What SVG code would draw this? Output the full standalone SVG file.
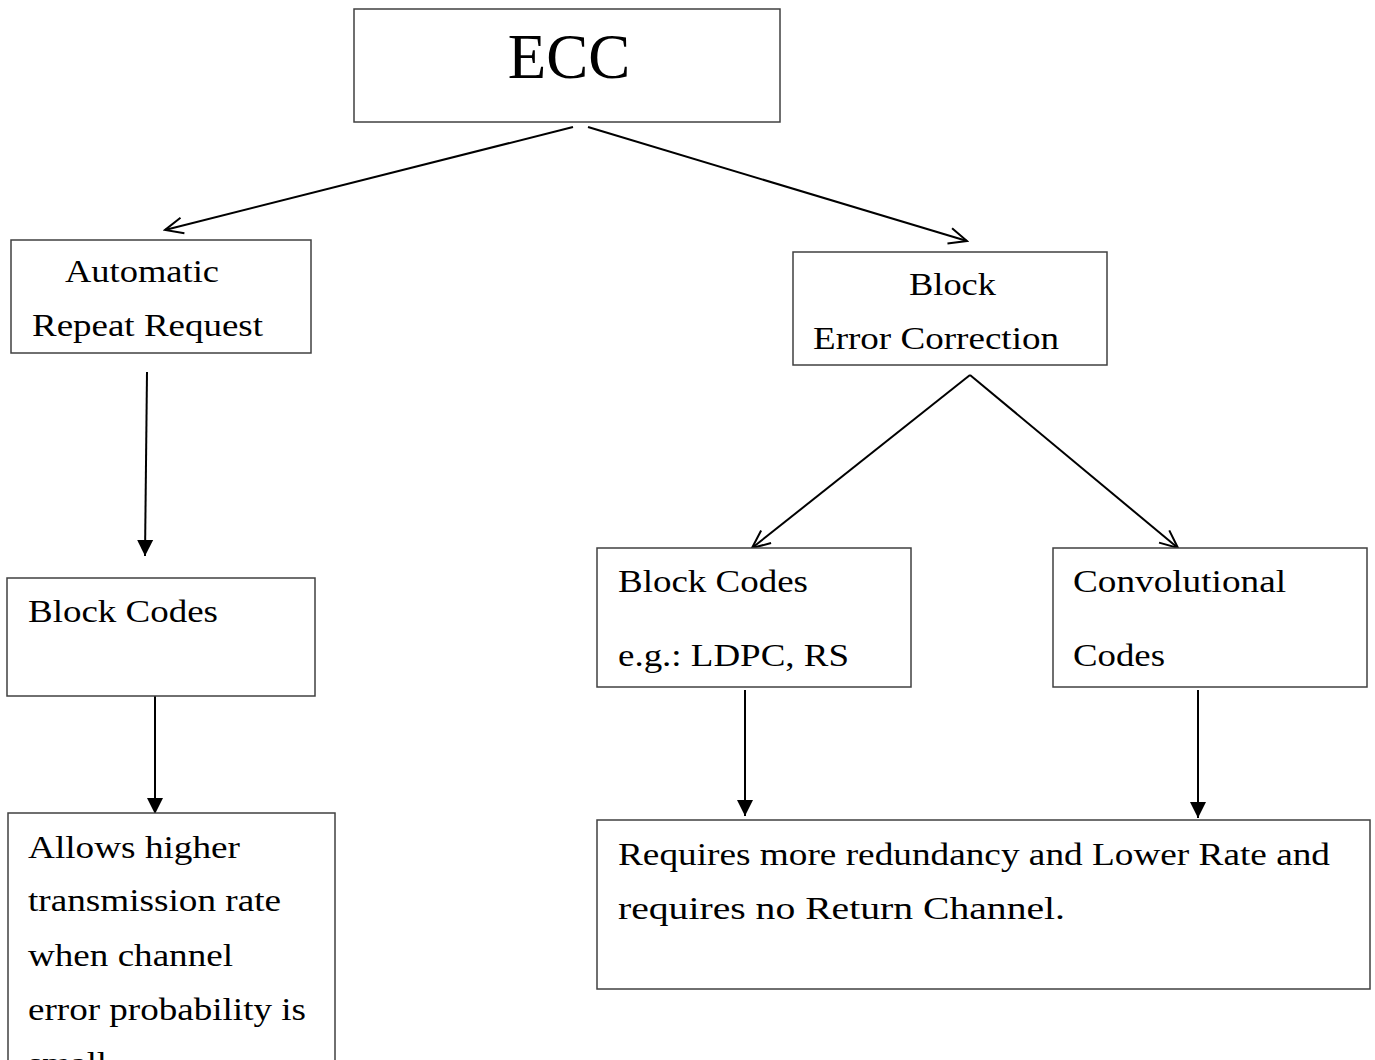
<svg xmlns="http://www.w3.org/2000/svg" width="1375" height="1060" viewBox="0 0 1375 1060">
  <style>
    .box { fill: #ffffff; stroke: #404040; stroke-width: 1.5; }
    .lbl { font-family: "Liberation Serif", "Times New Roman", serif; font-size: 32px; fill: #000000; }
    .big { font-family: "Liberation Serif", "Times New Roman", serif; font-size: 63px; fill: #000000; }
    .edge { fill: none; stroke: #000000; stroke-width: 2; }
    .open { marker-end: url(#openHead); }
    .solid { marker-end: url(#solidHead); }
  </style>
  <defs>
    <marker id="openHead" viewBox="0 0 22 22" refX="20" refY="11" markerWidth="22" markerHeight="22" markerUnits="userSpaceOnUse" orient="auto">
      <path d="M2,3 L20,11 L2,19" fill="none" stroke="#000" stroke-width="2"/>
    </marker>
    <marker id="solidHead" viewBox="0 0 20 20" refX="18" refY="10" markerWidth="20" markerHeight="20" markerUnits="userSpaceOnUse" orient="auto">
      <path d="M2,2 L18,10 L2,18 Z" fill="#000"/>
    </marker>
  </defs>
  <rect width="1375" height="1060" fill="#ffffff"/>

  <g id="connectors">
    <line class="edge open" x1="573" y1="127" x2="165" y2="230"/>
    <line class="edge open" x1="588" y1="127" x2="967" y2="241"/>
    <line class="edge solid" x1="147" y1="372" x2="145" y2="556"/>
    <line class="edge solid" x1="155" y1="696" x2="155" y2="814"/>
    <line class="edge open" x1="970" y1="375" x2="752" y2="548"/>
    <line class="edge open" x1="970" y1="375" x2="1178" y2="548"/>
    <line class="edge solid" x1="745" y1="690" x2="745" y2="816"/>
    <line class="edge solid" x1="1198" y1="690" x2="1198" y2="818"/>
  </g>

  <g id="ecc">
    <rect class="box" x="354" y="9" width="426" height="113"/>
    <text class="big" x="569" y="78" text-anchor="middle">ECC</text>
  </g>

  <g id="arq">
    <rect class="box" x="11" y="240" width="300" height="113"/>
    <text class="lbl" x="65" y="282" textLength="154" lengthAdjust="spacingAndGlyphs">Automatic</text>
    <text class="lbl" x="32" y="336" textLength="231" lengthAdjust="spacingAndGlyphs">Repeat Request</text>
  </g>

  <g id="block-error-correction">
    <rect class="box" x="793" y="252" width="314" height="113"/>
    <text class="lbl" x="909" y="295" textLength="87" lengthAdjust="spacingAndGlyphs">Block</text>
    <text class="lbl" x="813" y="349" textLength="246" lengthAdjust="spacingAndGlyphs">Error Correction</text>
  </g>

  <g id="arq-block-codes">
    <rect class="box" x="7" y="578" width="308" height="118"/>
    <text class="lbl" x="28" y="622" textLength="190" lengthAdjust="spacingAndGlyphs">Block Codes</text>
  </g>

  <g id="arq-benefit">
    <rect class="box" x="8" y="813" width="327" height="270"/>
    <text class="lbl" x="28" y="858" textLength="212" lengthAdjust="spacingAndGlyphs">Allows higher</text>
    <text class="lbl" x="28" y="911" textLength="253" lengthAdjust="spacingAndGlyphs">transmission rate</text>
    <text class="lbl" x="28" y="966" textLength="205" lengthAdjust="spacingAndGlyphs">when channel</text>
    <text class="lbl" x="28" y="1020" textLength="278" lengthAdjust="spacingAndGlyphs">error probability is</text>
    <text class="lbl" x="28" y="1074" textLength="88" lengthAdjust="spacingAndGlyphs">small.</text>
  </g>

  <g id="fec-block-codes">
    <rect class="box" x="597" y="548" width="314" height="139"/>
    <text class="lbl" x="618" y="592" textLength="190" lengthAdjust="spacingAndGlyphs">Block Codes</text>
    <text class="lbl" x="618" y="666" textLength="231" lengthAdjust="spacingAndGlyphs">e.g.: LDPC, RS</text>
  </g>

  <g id="convolutional-codes">
    <rect class="box" x="1053" y="548" width="314" height="139"/>
    <text class="lbl" x="1073" y="592" textLength="213" lengthAdjust="spacingAndGlyphs">Convolutional</text>
    <text class="lbl" x="1073" y="666" textLength="92" lengthAdjust="spacingAndGlyphs">Codes</text>
  </g>

  <g id="fec-benefit">
    <rect class="box" x="597" y="820" width="773" height="169"/>
    <text class="lbl" x="618" y="865" textLength="712" lengthAdjust="spacingAndGlyphs">Requires more redundancy and Lower Rate and</text>
    <text class="lbl" x="618" y="919" textLength="447" lengthAdjust="spacingAndGlyphs">requires no Return Channel.</text>
  </g>
</svg>
